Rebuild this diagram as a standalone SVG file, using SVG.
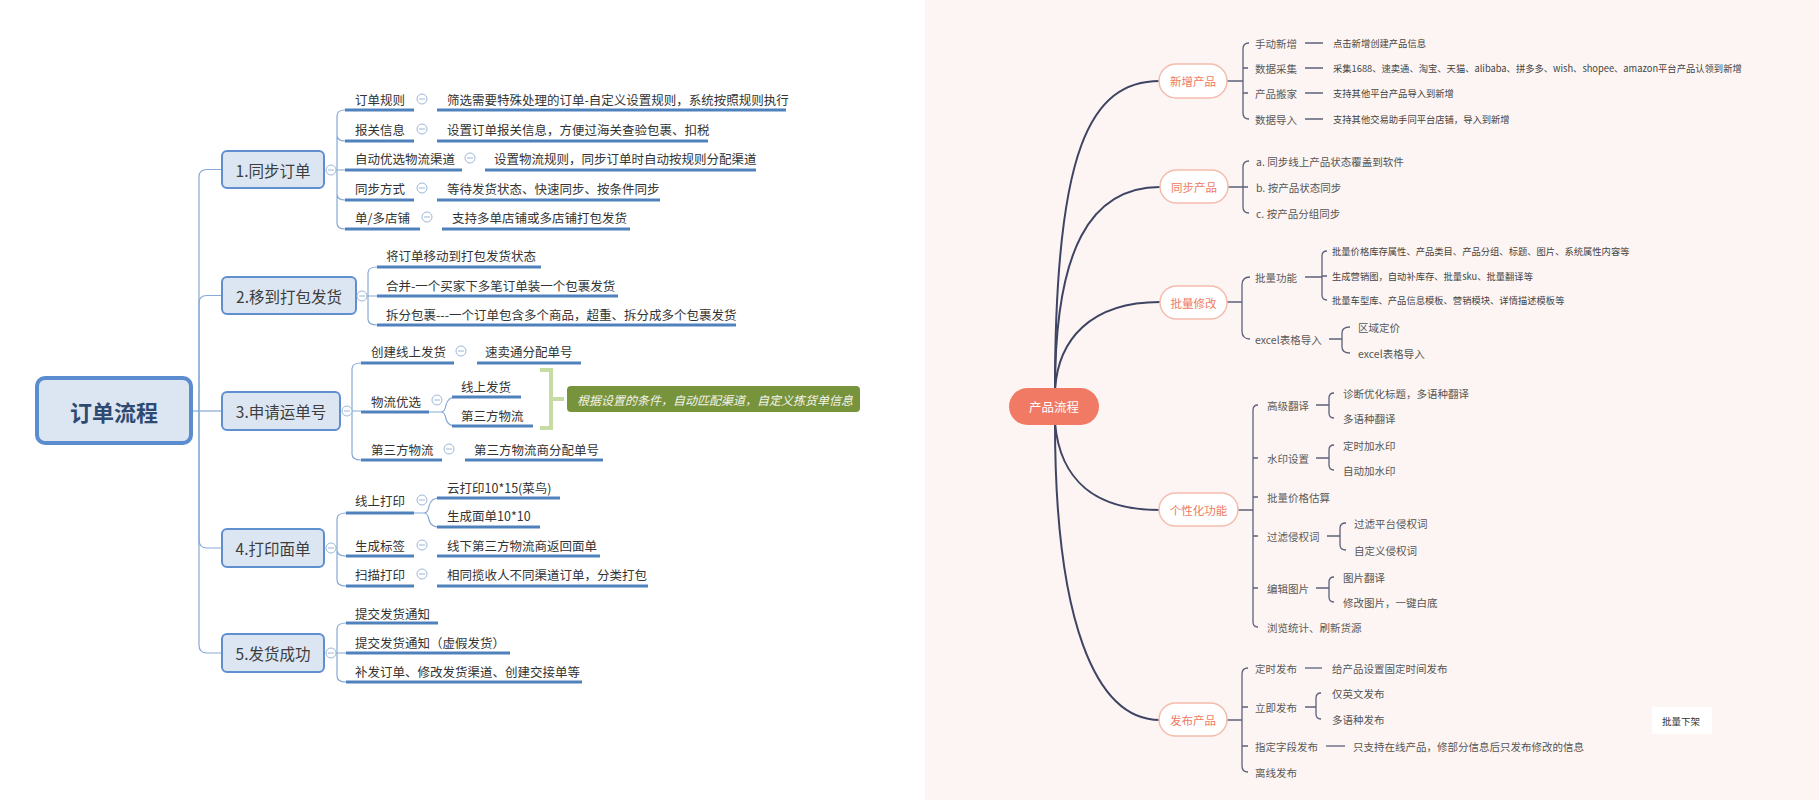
<svg xmlns="http://www.w3.org/2000/svg" width="1819" height="800" viewBox="0 0 1819 800">
<style>
text{font-family:"Noto Sans CJK SC","Noto Sans",sans-serif;dominant-baseline:central}
.root{fill:#dce6f2;stroke:#5b8cd0;stroke-width:4}
.rootT{font-size:22px;font-weight:bold;fill:#2f4a70;text-anchor:middle}
.l1{fill:#dce6f2;stroke:#5f8fcf;stroke-width:2}
.l1T{font-size:15.5px;fill:#3d3d3d;text-anchor:middle}
.lt{font-size:12.5px;fill:#333}
.ul{stroke:#4f81bd;stroke-width:3;fill:none}
.cn{stroke:#86a9d6;stroke-width:1.2;fill:none}
.cc{fill:#fff;stroke:#9db7da;stroke-width:1}
.cm{stroke:#9db7da;stroke-width:1}
.sumb{fill:none;stroke:#c6dca3;stroke-width:4}
.sum{fill:#77933c}
.sumT{font-size:12px;fill:#f4f4ea;font-style:italic}
.pr{fill:#f07a63}
.prT{font-size:12.5px;fill:#fff;text-anchor:middle}
.p1{fill:#fff;stroke:#f4bcad;stroke-width:1.5}
.p1T{font-size:11.5px;fill:#ee7a62;text-anchor:middle}
.rc{stroke:#3e4463;stroke-width:2;fill:none}
.br{stroke:#5c6079;stroke-width:1.3;fill:none}
.r2{font-size:10.5px;fill:#5a5a5a}
.r3{font-size:10.5px;fill:#555}
.r4{font-size:9.3px;fill:#444}
</style>
<rect x="925" y="0" width="894" height="800" fill="#fdf5f3"/>

<!-- LEFT: connectors -->
<g id="left-connectors">
<path class="cn" d="M191,411 H222"/>
<path class="cn" d="M199,411 V177 Q199,169.5 207,169.5 H222"/>
<path class="cn" d="M199,411 V303 Q199,295.5 207,295.5 H222"/>
<path class="cn" d="M199,411 V540 Q199,548 207,548 H222"/>
<path class="cn" d="M199,411 V645 Q199,653 207,653 H222"/>
<!-- branch 1 -->
<path class="cn" d="M336,170 H345 M337,170 V116 Q337,110 345,110 M337,170 V135 Q337,141 345,141 M337,170 V194 Q337,200 345,200 M337,170 V223 Q337,229 345,229"/>
<!-- branch 2 -->
<path class="cn" d="M367,296 H377 M368,296 V273 Q368,267 377,267 M368,296 V319 Q368,325 377,325"/>
<!-- branch 3 -->
<path class="cn" d="M352,411 H361 M352,412 V369 Q352,363 361,363 M352,412 V454 Q352,460 361,460"/>
<path class="cn" d="M429,412 H441 Q445,412 446,405 Q448,397 456,397 M441,412 Q445,412 446,419 Q448,426 456,426"/>
<!-- branch 4 -->
<path class="cn" d="M336,548 H337 M337,548 V519 Q337,513 346,513 M337,548 V550 Q337,556 346,556 M337,548 V580 Q337,586 346,586"/>
<path class="cn" d="M414,513 H424 Q428,513 429,506 Q431,498 439,498 M424,513 Q428,513 429,520 Q431,527 439,527"/>
<!-- branch 5 -->
<path class="cn" d="M336,653 H346 M337,653 V629 Q337,623 346,623 M337,653 V676 Q337,682 346,682"/>
</g>

<g id="root-order">
<rect class="root" x="37" y="378" width="154" height="65" rx="8"/>
<text class="rootT" x="114" y="411">订单流程</text>
</g>

<g id="n1">
<rect class="l1" x="222" y="151" width="102" height="37" rx="5"/>
<text class="l1T" x="273" y="169.5">1.同步订单</text>
<circle class="cc" cx="331" cy="170" r="5"/><path class="cm" d="M328,170 H334"/>
</g>
<g id="n1-rows">
<text class="lt" x="355" y="99">订单规则</text><path class="ul" d="M345,110 H414"/>
<circle class="cc" cx="422" cy="99" r="5"/><path class="cm" d="M419,99 H425"/>
<text class="lt" x="447" y="99">筛选需要特殊处理的订单-自定义设置规则，系统按照规则执行</text><path class="ul" d="M437,110 H786"/>
<text class="lt" x="355" y="129">报关信息</text><path class="ul" d="M345,141 H414"/>
<circle class="cc" cx="422" cy="129" r="5"/><path class="cm" d="M419,129 H425"/>
<text class="lt" x="447" y="129">设置订单报关信息，方便过海关查验包裹、扣税</text><path class="ul" d="M437,141 H708"/>
<text class="lt" x="355" y="158">自动优选物流渠道</text><path class="ul" d="M345,170 H462"/>
<circle class="cc" cx="470" cy="158" r="5"/><path class="cm" d="M467,158 H473"/>
<text class="lt" x="494" y="158">设置物流规则，同步订单时自动按规则分配渠道</text><path class="ul" d="M485,170 H756"/>
<text class="lt" x="355" y="188">同步方式</text><path class="ul" d="M345,200 H414"/>
<circle class="cc" cx="422" cy="188" r="5"/><path class="cm" d="M419,188 H425"/>
<text class="lt" x="447" y="188">等待发货状态、快速同步、按条件同步</text><path class="ul" d="M437,200 H660"/>
<text class="lt" x="355" y="217">单/多店铺</text><path class="ul" d="M345,229 H420"/>
<circle class="cc" cx="427" cy="217" r="5"/><path class="cm" d="M424,217 H430"/>
<text class="lt" x="452" y="217">支持多单店铺或多店铺打包发货</text><path class="ul" d="M442,229 H630"/>
</g>

<g id="n2">
<rect class="l1" x="222" y="277" width="134" height="37" rx="5"/>
<text class="l1T" x="289" y="295.5">2.移到打包发货</text>
<circle class="cc" cx="362" cy="296" r="5"/><path class="cm" d="M359,296 H365"/>
</g>
<g id="n2-rows">
<text class="lt" x="386" y="255">将订单移动到打包发货状态</text><path class="ul" d="M377,267 H541"/>
<text class="lt" x="386" y="285">合并-一个买家下多笔订单装一个包裹发货</text><path class="ul" d="M377,296 H618"/>
<text class="lt" x="386" y="314">拆分包裹---一个订单包含多个商品，超重、拆分成多个包裹发货</text><path class="ul" d="M377,325 H736"/>
</g>

<g id="n3">
<rect class="l1" x="222" y="392" width="118" height="38" rx="5"/>
<text class="l1T" x="281" y="411">3.申请运单号</text>
<circle class="cc" cx="347" cy="411" r="5"/><path class="cm" d="M344,411 H350"/>
</g>
<g id="n3-rows">
<text class="lt" x="371" y="351">创建线上发货</text><path class="ul" d="M361,363 H454"/>
<circle class="cc" cx="461" cy="351" r="5"/><path class="cm" d="M458,351 H464"/>
<text class="lt" x="485" y="351">速卖通分配单号</text><path class="ul" d="M477,363 H581"/>
<text class="lt" x="371" y="401">物流优选</text><path class="ul" d="M361,412 H429"/>
<circle class="cc" cx="437" cy="400" r="5"/><path class="cm" d="M434,400 H440"/>
<text class="lt" x="461" y="386">线上发货</text><path class="ul" d="M452,397 H521"/>
<text class="lt" x="461" y="415">第三方物流</text><path class="ul" d="M452,426 H533"/>
<text class="lt" x="371" y="449">第三方物流</text><path class="ul" d="M361,460 H442"/>
<circle class="cc" cx="449" cy="449" r="5"/><path class="cm" d="M446,449 H452"/>
<text class="lt" x="474" y="449">第三方物流商分配单号</text><path class="ul" d="M465,460 H603"/>
</g>
<g id="n3-summary">
<path class="sumb" d="M540,370 H551 V428 H540 M551,399 H564"/>
<rect class="sum" x="567" y="386" width="293" height="26" rx="4"/>
<text class="sumT" x="577" y="399">根据设置的条件，自动匹配渠道，自定义拣货单信息</text>
</g>

<g id="n4">
<rect class="l1" x="222" y="529" width="102" height="38" rx="5"/>
<text class="l1T" x="273" y="548">4.打印面单</text>
<circle class="cc" cx="331" cy="548" r="5"/><path class="cm" d="M328,548 H334"/>
</g>
<g id="n4-rows">
<text class="lt" x="355" y="500">线上打印</text><path class="ul" d="M346,513 H414"/>
<circle class="cc" cx="422" cy="500" r="5"/><path class="cm" d="M419,500 H425"/>
<text class="lt" x="447" y="487">云打印10*15(菜鸟)</text><path class="ul" d="M437,498 H560"/>
<text class="lt" x="447" y="515">生成面单10*10</text><path class="ul" d="M437,527 H540"/>
<text class="lt" x="355" y="545">生成标签</text><path class="ul" d="M346,556 H414"/>
<circle class="cc" cx="422" cy="545" r="5"/><path class="cm" d="M419,545 H425"/>
<text class="lt" x="447" y="545">线下第三方物流商返回面单</text><path class="ul" d="M437,556 H600"/>
<text class="lt" x="355" y="574">扫描打印</text><path class="ul" d="M346,586 H414"/>
<circle class="cc" cx="422" cy="574" r="5"/><path class="cm" d="M419,574 H425"/>
<text class="lt" x="447" y="574">相同揽收人不同渠道订单，分类打包</text><path class="ul" d="M437,586 H648"/>
</g>

<g id="n5">
<rect class="l1" x="222" y="634" width="102" height="38" rx="5"/>
<text class="l1T" x="273" y="653">5.发货成功</text>
<circle class="cc" cx="331" cy="653" r="5"/><path class="cm" d="M328,653 H334"/>
</g>
<g id="n5-rows">
<text class="lt" x="355" y="613">提交发货通知</text><path class="ul" d="M346,623 H438"/>
<text class="lt" x="355" y="642">提交发货通知（虚假发货）</text><path class="ul" d="M346,653 H510"/>
<text class="lt" x="355" y="671">补发订单、修改发货渠道、创建交接单等</text><path class="ul" d="M346,682 H582"/>
</g>

<!-- RIGHT -->
<g id="right-connectors">
<path class="rc" d="M1055,390 C1055,150 1090,81 1160,81"/>
<path class="rc" d="M1055,390 C1055,250 1090,187 1160,187"/>
<path class="rc" d="M1055,390 C1058,340 1090,302 1160,302"/>
<path class="rc" d="M1055,423 C1060,480 1095,510 1160,510"/>
<path class="rc" d="M1055,423 C1055,620 1095,720 1160,720"/>
<!-- 新增产品 -->
<path class="br" d="M1227,81 H1243 M1249,43 Q1243,43 1243,49 V113 Q1243,119 1249,119 M1243,68 H1248 M1243,93 H1248"/>
<path class="br" d="M1305,43 H1323 M1305,68 H1323 M1305,93 H1323 M1305,119 H1323"/>
<!-- 同步产品 -->
<path class="br" d="M1228,187 H1243 M1249,161 Q1243,161 1243,167 V207 Q1243,213 1249,213 M1243,187 H1248"/>
<!-- 批量修改 -->
<path class="br" d="M1227,302 H1242 M1250,277 Q1242,277 1242,285 V331 Q1242,339 1250,339"/>
<path class="br" d="M1305,277 H1322 M1327,251 Q1322,251 1322,256 V295 Q1322,300 1327,300 M1322,276 H1327"/>
<path class="br" d="M1329,339 H1342 M1350,327 Q1342,327 1342,333 V347 Q1342,353 1350,353"/>
<!-- 个性化功能 -->
<path class="br" d="M1238,510 H1253 M1258,405 Q1253,405 1253,410 V622 Q1253,627 1258,627 M1253,458 Q1253,458 1258,458 M1253,497 H1258 M1253,536 H1258 M1253,588 H1258"/>
<path class="br" d="M1316,405 H1329 M1334,393 Q1329,393 1329,398 V413 Q1329,418 1334,418"/>
<path class="br" d="M1316,458 H1329 M1334,445 Q1329,445 1329,450 V465 Q1329,470 1334,470"/>
<path class="br" d="M1327,536 H1340 M1346,523 Q1340,523 1340,528 V545 Q1340,550 1346,550"/>
<path class="br" d="M1316,588 H1329 M1334,577 Q1329,577 1329,582 V597 Q1329,602 1334,602"/>
<!-- 发布产品 -->
<path class="br" d="M1227,720 H1242 M1248,668 Q1242,668 1242,674 V766 Q1242,772 1248,772 M1242,707 H1248 M1242,746 H1248"/>
<path class="br" d="M1305,668 H1322"/>
<path class="br" d="M1305,707 H1316 M1321,693 Q1316,693 1316,698 V714 Q1316,719 1321,719"/>
<path class="br" d="M1326,746 H1345"/>
</g>

<g id="root-product">
<rect class="pr" x="1009" y="388" width="90" height="37" rx="18.5"/>
<text class="prT" x="1054" y="406.5">产品流程</text>
</g>

<g id="p-new">
<rect class="p1" x="1159" y="64" width="68" height="34" rx="17"/>
<text class="p1T" x="1193" y="81">新增产品</text>
<text class="r2" x="1255" y="43">手动新增</text>
<text class="r2" x="1255" y="68">数据采集</text>
<text class="r2" x="1255" y="93">产品搬家</text>
<text class="r2" x="1255" y="119">数据导入</text>
<text class="r4" x="1333" y="43">点击新增创建产品信息</text>
<text class="r4" x="1333" y="68">采集1688、速卖通、淘宝、天猫、alibaba、拼多多、wish、shopee、amazon平台产品认领到新增</text>
<text class="r4" x="1333" y="93">支持其他平台产品导入到新增</text>
<text class="r4" x="1333" y="119">支持其他交易助手同平台店铺，导入到新增</text>
</g>

<g id="p-sync">
<rect class="p1" x="1160" y="170" width="68" height="33" rx="16.5"/>
<text class="p1T" x="1194" y="186.5">同步产品</text>
<text class="r3" x="1256" y="161">a. 同步线上产品状态覆盖到软件</text>
<text class="r3" x="1256" y="187">b. 按产品状态同步</text>
<text class="r3" x="1256" y="213">c. 按产品分组同步</text>
</g>

<g id="p-batch">
<rect class="p1" x="1160" y="286" width="67" height="33" rx="16.5"/>
<text class="p1T" x="1193.5" y="302.5">批量修改</text>
<text class="r2" x="1255" y="277">批量功能</text>
<text class="r2" x="1255" y="339">excel表格导入</text>
<text class="r4" x="1332" y="251">批量价格库存属性、产品类目、产品分组、标题、图片、系统属性内容等</text>
<text class="r4" x="1332" y="276">生成营销图，自动补库存、批量sku、批量翻译等</text>
<text class="r4" x="1332" y="300">批量车型库、产品信息模板、营销模块、详情描述模板等</text>
<text class="r3" x="1358" y="327">区域定价</text>
<text class="r3" x="1358" y="353">excel表格导入</text>
</g>

<g id="p-custom">
<rect class="p1" x="1159" y="493" width="79" height="33" rx="16.5"/>
<text class="p1T" x="1198.5" y="509.5">个性化功能</text>
<text class="r2" x="1267" y="405">高级翻译</text>
<text class="r2" x="1267" y="458">水印设置</text>
<text class="r2" x="1267" y="497">批量价格估算</text>
<text class="r2" x="1267" y="536">过滤侵权词</text>
<text class="r2" x="1267" y="588">编辑图片</text>
<text class="r2" x="1267" y="627">浏览统计、刷新货源</text>
<text class="r3" x="1343" y="393">诊断优化标题，多语种翻译</text>
<text class="r3" x="1343" y="418">多语种翻译</text>
<text class="r3" x="1343" y="445">定时加水印</text>
<text class="r3" x="1343" y="470">自动加水印</text>
<text class="r3" x="1354" y="523">过滤平台侵权词</text>
<text class="r3" x="1354" y="550">自定义侵权词</text>
<text class="r3" x="1343" y="577">图片翻译</text>
<text class="r3" x="1343" y="602">修改图片，一键白底</text>
</g>

<g id="p-publish">
<rect class="p1" x="1159" y="703" width="68" height="33" rx="16.5"/>
<text class="p1T" x="1193" y="719.5">发布产品</text>
<text class="r2" x="1255" y="668">定时发布</text>
<text class="r2" x="1255" y="707">立即发布</text>
<text class="r2" x="1255" y="746">指定字段发布</text>
<text class="r2" x="1255" y="772">离线发布</text>
<text class="r3" x="1332" y="668">给产品设置固定时间发布</text>
<text class="r3" x="1332" y="693">仅英文发布</text>
<text class="r3" x="1332" y="719">多语种发布</text>
<text class="r3" x="1353" y="746">只支持在线产品，修部分信息后只发布修改的信息</text>
</g>

<g id="batch-off">
<rect x="1652" y="707" width="60" height="27" fill="#fff"/>
<text x="1662" y="720.5" style="font-size:9.5px;fill:#333">批量下架</text>
</g>
</svg>
